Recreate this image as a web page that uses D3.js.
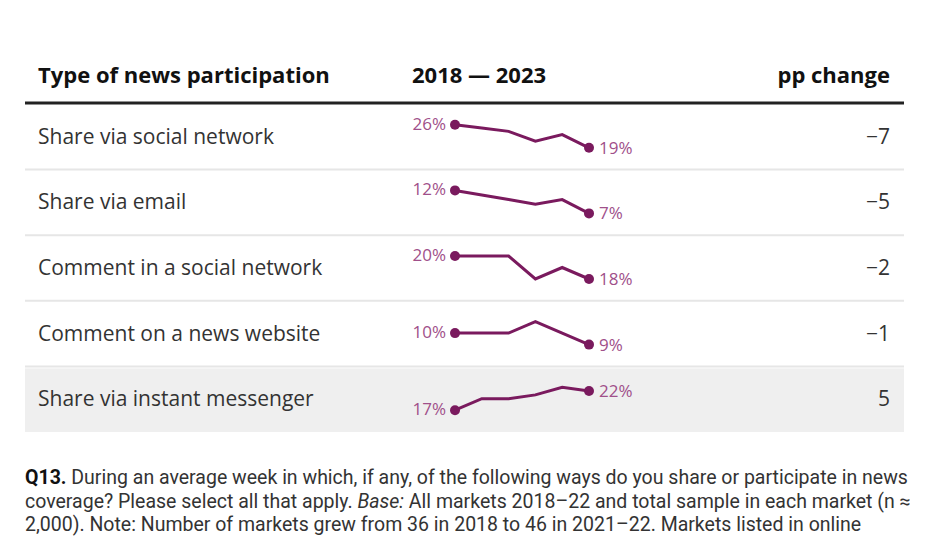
<!DOCTYPE html><html><head><meta charset="utf-8"><script src="https://cdn.jsdelivr.net/npm/d3@7"></script>
<style>body{margin:0;background:#fff}</style></head><body><svg width="944" height="540"></svg><script>
const categories=["Share via social network","Share via email","Comment in a social network","Comment on a news website","Share via instant messenger"];
const years=[2018,2019,2020,2021,2022,2023];
const series=[[26,25,24,21,23,19],[12,11,10,9,10,7],[20,20,20,18,19,18],[10,10,10,11,10,9],[17,20,20,21,23,22]];
const ppChange=["\u22127","\u22125","\u22122","\u22121","5"];
const svg=d3.select("svg");
const col="#7a1a5e", lab="#a0508a";
const hf="'Open Sans', sans-serif";
const h=svg.append("g").attr("font-family",hf).attr("font-weight",700).attr("font-size",22).attr("fill","#111");
h.append("text").attr("x",38).attr("y",83).text("Type of news participation");
h.append("text").attr("x",412).attr("y",83).text("2018 \u2014 2023");
h.append("text").attr("x",890).attr("y",83).attr("text-anchor","end").text("pp change");
const rowY=d3.scaleBand().domain(categories).range([104,432]);
const x=d3.scalePoint().domain(years).range([455,589]);
categories.forEach((c,i)=>{
 const y0=rowY(c), bh=rowY.bandwidth();
 if(i===4) svg.append("rect").attr("x",25).attr("y",y0+2).attr("width",879).attr("height",bh-2).attr("fill","#efefef");
 else svg.append("line").attr("x1",25).attr("x2",904).attr("y1",y0+bh).attr("y2",y0+bh).attr("stroke","#e6e6e6").attr("stroke-width",2);
 svg.append("text").attr("x",38).attr("y",y0+bh/2+7).attr("font-family","'Open Sans',sans-serif").attr("font-size",21).attr("fill","#333").text(c);
 svg.append("text").attr("x",890).attr("y",y0+bh/2+7).attr("text-anchor","end").attr("font-family","'Open Sans',sans-serif").attr("font-size",21).attr("fill","#333").text(ppChange[i]);
 const v=series[i], ext=d3.extent(v);
 const y=d3.scaleLinear().domain(ext).range([y0+bh/2+11,y0+bh/2-12]);
 svg.append("path").datum(v).attr("fill","none").attr("stroke",col).attr("stroke-width",3)
  .attr("d",d3.line().x((d,j)=>x(years[j])).y(d=>y(d)));
 [0,5].forEach(j=>{
  svg.append("circle").attr("cx",x(years[j])).attr("cy",y(v[j])).attr("r",5).attr("fill",col);
  svg.append("text").attr("x",j?x(years[j])+10:x(years[j])-9).attr("y",y(v[j])+(j?6:0)).attr("dy",j?0:5)
   .attr("text-anchor",j?"start":"end").attr("font-family",hf).attr("font-size",17).attr("fill",lab).text(v[j]+"%");
 });
});
svg.append("line").attr("x1",25).attr("x2",904).attr("y1",103).attr("y2",103).attr("stroke","#222").attr("stroke-width",3);
const f=svg.append("text").attr("font-family","'Liberation Sans Narrow','Roboto',sans-serif").attr("font-size",19.5).attr("fill","#333");
const lines=[[["Q13.",1],[" During an average week in which, if any, of the following ways do you share or participate in news"]],
[["coverage? Please select all that apply. "],["Base:",2],[" All markets 2018\u201322 and total sample in each market (n \u2248"]],
[["2,000). Note: Number of markets grew from 36 in 2018 to 46 in 2021\u201322. Markets listed in online"]]];
lines.forEach((l,k)=>{const t=f.append("tspan").attr("x",25).attr("y",484+k*23.5);
 l.forEach((s,m)=>{const ts=(m?f.append("tspan"):t).text(s[0]);if(s[1]===1)ts.attr("font-weight",700).attr("fill","#111");if(s[1]===2)ts.attr("font-style","italic");});});
</script></body></html>
